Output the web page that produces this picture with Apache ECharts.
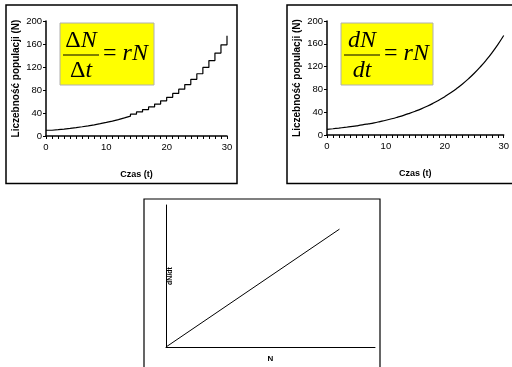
<!DOCTYPE html>
<html>
<head>
<meta charset="utf-8">
<script src="https://cdn.jsdelivr.net/npm/echarts@6/dist/echarts.min.js"></script>
<style>html,body{margin:0;padding:0;background:#fff}#c{width:512px;height:367px}</style>
</head>
<body>
<div id="c"></div>
<script>
// Data
var tValues = [0,1,2,3,4,5,6,7,8,9,10,11,12,13,14,15,16,17,18,19,20,21,22,23,24,25,26,27,28,29,30];
var discreteN = [10,11,12.1,13.3,14.6,16.1,17.7,19.5,21.4,23.6,25.9,28.5,31.4,34.5,38,41.8,45.9,50.5,55.6,61.2,67.3,74,81.4,89.5,98.5,108.3,119.2,131.1,144.2,158.6,174.5];
var continuousN = [10,11,12.1,13.3,14.6,16.1,17.7,19.5,21.4,23.6,25.9,28.5,31.4,34.5,38,41.8,45.9,50.5,55.6,61.2,67.3,74,81.4,89.5,98.5,108.3,119.2,131.1,144.2,158.6,174.5];
var xTickLabels = [0,10,20,30];
var yTickLabels = [0,40,80,120,160,200];
var lineN = [0, 83];
var lineDNdt = [0, 83];
var yName = 'Liczebność populacji (N)';
var xName = 'Czas (t)';

function pairs(xs, ys){ return xs.map(function(x,i){return [x, ys[i]];}); }

var chart = echarts.init(document.getElementById('c'), null, {renderer:'canvas'});
var FONT = 'Liberation Sans, Arial, sans-serif';
var SERIF = '"Liberation Serif", "Times New Roman", serif';

function xAxisCfg(idx){
  return {
    type:'value', gridIndex:idx, min:0, max:30, interval:1,
    name: xName, nameLocation:'middle', nameGap: 34,
    nameTextStyle:{fontFamily:FONT, fontSize:9, fontWeight:'bold', color:'#000'},
    axisLine:{show:true, lineStyle:{color:'#000', width:1.5}},
    axisTick:{show:true, length:3, lineStyle:{color:'#000', width:1}},
    splitLine:{show:false},
    axisLabel:{fontFamily:FONT, fontSize:9.5, color:'#000', margin:6,
      formatter:function(v){ return xTickLabels.indexOf(v)>=0 ? String(v) : ''; }}
  };
}
function yAxisCfg(idx){
  return {
    type:'value', gridIndex:idx, min:0, max:200, interval:40,
    name: yName, nameLocation:'middle', nameGap: 25,
    nameTextStyle:{fontFamily:FONT, fontSize:10, fontWeight:'bold', color:'#000'},
    axisLine:{show:true, lineStyle:{color:'#000', width:1.5}},
    axisTick:{show:true, length:3, lineStyle:{color:'#000'}},
    splitLine:{show:false},
    axisLabel:{fontFamily:FONT, fontSize:9.5, color:'#000', margin:4,
      formatter:function(v){ return yTickLabels.indexOf(v)>=0 ? String(v) : ''; }}
  };
}

function formula(x, y, w, h, topA, topB, botA, botB, upright){
  var cx = x + 21;
  var rich = {
    u:{font:'24px ' + SERIF, fill:'#000'},
    i:{font:'italic 24px ' + SERIF, fill:'#000'}
  };
  var st = upright ? 'u' : 'i';
  return {
    type:'group', z:10,
    children:[
      {type:'rect', shape:{x:x, y:y, width:w, height:h}, style:{fill:'#ffff00', stroke:'#b0b0b0', lineWidth:1}},
      {type:'text', style:{text:'{'+st+'|'+topA+'}{i|'+topB+'}', rich:rich, x:cx, y:y+18, align:'center', verticalAlign:'middle'}},
      {type:'line', shape:{x1:cx-18, y1:y+32, x2:cx+18, y2:y+32}, style:{stroke:'#000', lineWidth:1.2}},
      {type:'text', style:{text:'{'+st+'|'+botA+'}{i|'+botB+'}', rich:rich, x:cx, y:y+48, align:'center', verticalAlign:'middle'}},
      {type:'text', style:{text:'{u|= }{i|rN}', rich:rich, x:x+43, y:y+31, align:'left', verticalAlign:'middle'}}
    ]
  };
}

var option = {
  animation:false,
  backgroundColor:'#fff',
  grid:[
    {left:46, top:21, width:181, height:115},
    {left:327, top:21, width:179, height:114},
    {left:166, top:205, width:209, height:142}
  ],
  xAxis:[
    xAxisCfg(0), xAxisCfg(1),
    {type:'value', gridIndex:2, min:0, max:100, name:'N', nameLocation:'middle', nameGap:8,
      nameTextStyle:{fontFamily:FONT, fontSize:8, fontWeight:'bold', color:'#000'},
      axisLine:{show:true, lineStyle:{color:'#000', width:1}}, axisTick:{show:false}, axisLabel:{show:false}, splitLine:{show:false}}
  ],
  yAxis:[
    yAxisCfg(0), yAxisCfg(1),
    {type:'value', gridIndex:2, min:0, max:100, name:'dN/dt', nameLocation:'middle', nameGap:-8,
      nameTextStyle:{fontFamily:FONT, fontSize:7, fontWeight:'bold', color:'#000'},
      axisLine:{show:true, lineStyle:{color:'#000', width:1}}, axisTick:{show:false}, axisLabel:{show:false}, splitLine:{show:false}}
  ],
  series:[
    {type:'line', xAxisIndex:0, yAxisIndex:0, step:'end', data:pairs(tValues, discreteN),
      symbol:'none', lineStyle:{color:'#000', width:1.2}},
    {type:'line', xAxisIndex:1, yAxisIndex:1, smooth:true, data:pairs(tValues, continuousN),
      symbol:'none', lineStyle:{color:'#000', width:1.2}},
    {type:'line', xAxisIndex:2, yAxisIndex:2, data:pairs(lineN, lineDNdt),
      symbol:'none', lineStyle:{color:'#000', width:1}}
  ],
  graphic:[
    {type:'rect', shape:{x:6, y:5, width:231, height:178.5}, style:{fill:'none', stroke:'#000', lineWidth:1.5}, z:-1},
    {type:'rect', shape:{x:287, y:5, width:240, height:178.5}, style:{fill:'none', stroke:'#000', lineWidth:1.5}, z:-1},
    {type:'rect', shape:{x:144, y:199, width:236, height:190}, style:{fill:'none', stroke:'#000', lineWidth:1.2}, z:-1},
    formula(60, 23, 94, 62, 'Δ', 'N', 'Δ', 't', true),
    formula(341, 23, 92, 62, 'd', 'N', 'd', 't', false)
  ]
};
chart.setOption(option);
</script>
</body>
</html>
